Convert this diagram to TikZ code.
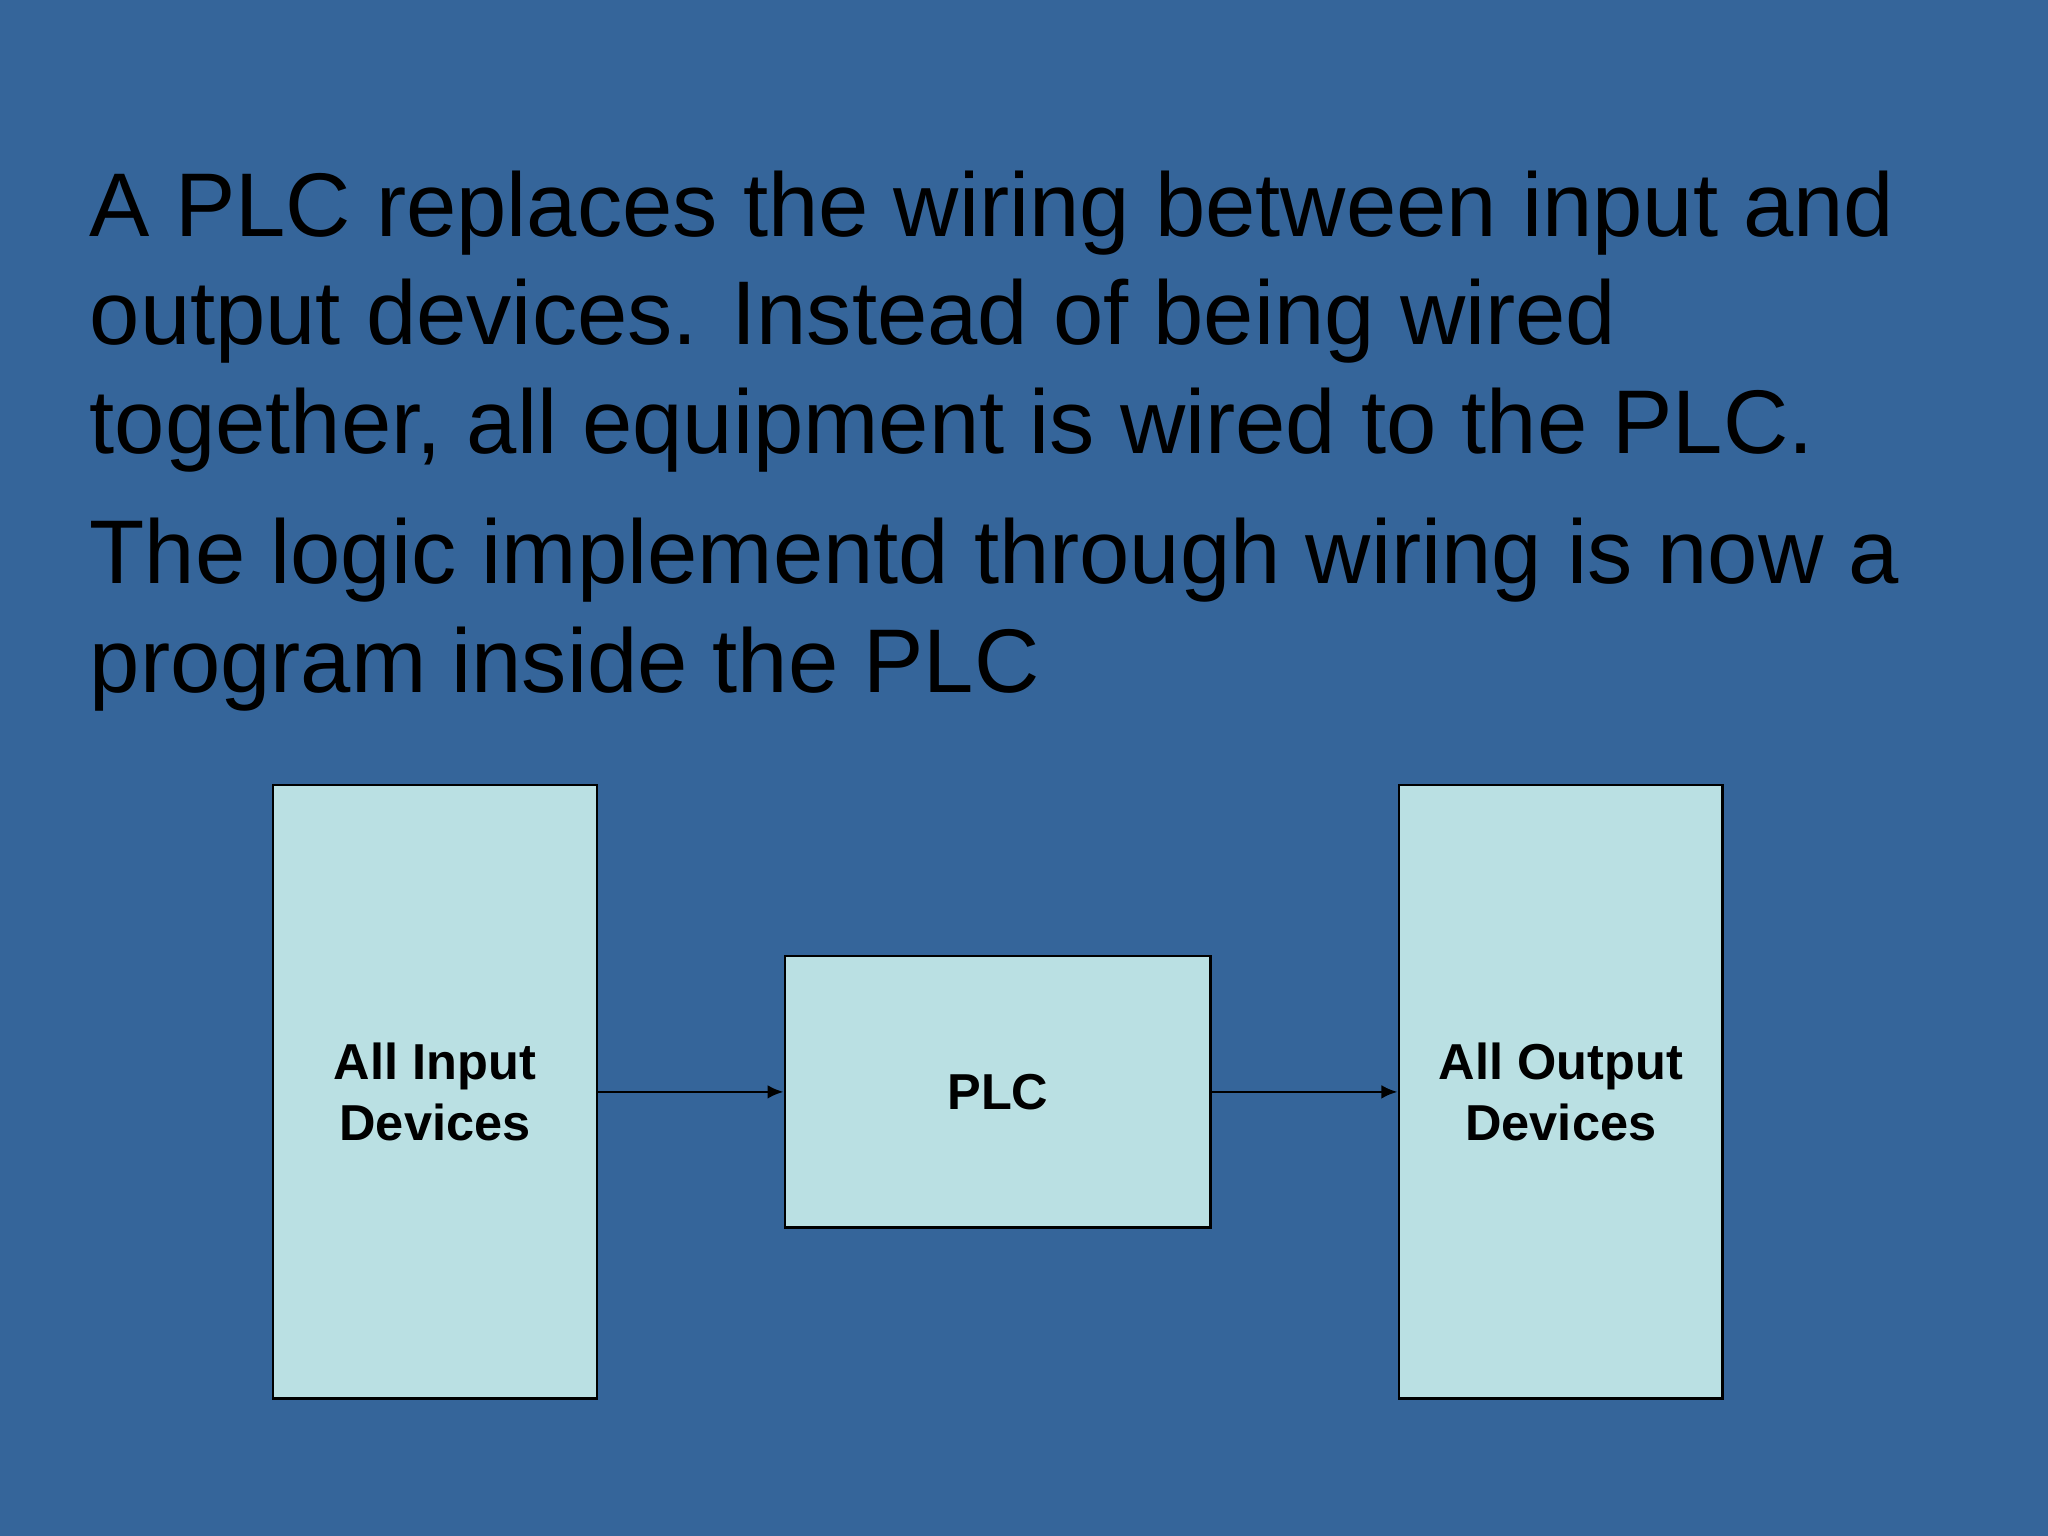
\documentclass[tikz,border=0pt]{standalone}
\usepackage{fontspec}
\setmainfont{Liberation Sans}
\usetikzlibrary{arrows.meta, positioning}
\definecolor{slidebg}{HTML}{35659A}
\definecolor{boxfill}{HTML}{BAE0E3}
\tikzset{
  block/.style={draw=black, fill=boxfill, line width=0.6pt, inner sep=0pt,
    align=center, font=\fontsize{11pt}{13.4pt}\selectfont\bfseries},
  para/.style={anchor=base west, align=left, inner sep=0pt,
    font=\fontsize{19.7pt}{23.6pt}\selectfont},
  link/.style={-{Latex[length=3.5pt, width=3pt]}, line width=0.6pt}
}
\begin{document}
\begin{tikzpicture}
    % Slide background
    \fill[slidebg] (0,0) rectangle (15.68,11.76);
    \useasboundingbox (0,0) rectangle (15.68,11.76);

    % Text paragraphs (base = last line)
    \node[para] (textA) at (0.68,8.29) {A PLC replaces the wiring between input and\\output devices. Instead of being wired\\together, all equipment is wired to the PLC.};
    \node[para] (textB) at (0.68,6.46) {The logic implementd through wiring is now a\\program inside the PLC};

    % Blocks
    \node[block, minimum width=2.48cm, minimum height=4.70cm] (inputs) at (3.33,3.40) {All Input\\Devices};
    \node[block, minimum width=3.26cm, minimum height=2.08cm] (plc) at (7.64,3.40) {PLC};
    \node[block, minimum width=2.48cm, minimum height=4.70cm] (outputs) at (11.95,3.40) {All Output\\Devices};

    % Connectors
    \draw[link] (inputs) -- (plc);
    \draw[link] (plc) -- (outputs);
\end{tikzpicture}
\end{document}
